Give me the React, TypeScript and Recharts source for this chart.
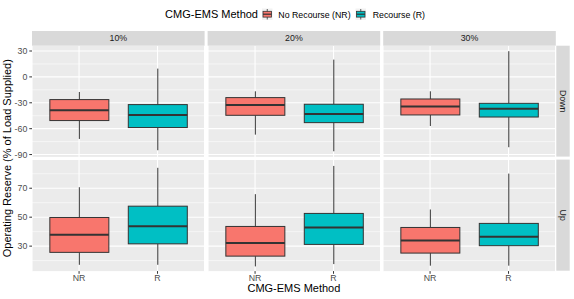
import React from 'react';
import { ComposedChart, Bar, XAxis, YAxis, CartesianGrid } from 'recharts';

const facets = ['10%', '20%', '30%'];
const directions = ['Down', 'Up'];
const methods = ['NR', 'R'];
const legendLabels = ['No Recourse (NR)', 'Recourse (R)'];
const colors = ['#F8766D', '#00BFC4'];

// box statistics per facet (10%, 20%, 30%): [min, q1, median, q3, max]
const downNR = [
  [-71.9, -50.6, -38.7, -26.3, -17.5],
  [-66.9, -44.5, -32.5, -24.0, -16.7],
  [-56.9, -44.1, -34.4, -25.6, -16.7],
];
const downR = [
  [-85.0, -58.7, -44.1, -32.1, 9.6],
  [-86.2, -53.0, -43.0, -31.7, 20.0],
  [-81.5, -46.5, -36.8, -30.6, 29.8],
];
const upNR = [
  [17.1, 25.7, 37.8, 49.8, 70.7],
  [16.0, 23.1, 32.1, 43.6, 65.9],
  [16.5, 25.2, 33.9, 42.9, 55.3],
];
const upR = [
  [17.1, 31.6, 43.8, 57.6, 84.1],
  [17.6, 31.2, 42.9, 52.6, 85.4],
  [16.5, 30.3, 36.5, 45.7, 80.1],
];

const downTicks = [-90, -60, -30, 0, 30];
const downMinor = [-75, -45, -15, 15];
const downDomain = [-92.7, 35.8];
const upTicks = [30, 50, 70];
const upMinor = [20, 40, 60, 80];
const upDomain = [12.76, 89.5];

const FONT = '"Liberation Sans", Arial, Helvetica, sans-serif';

const colX = [32, 207.6, 383.2];
const panelW = 172.6;
const rowY = [45.7, 159.6];
const rowH = [110.9, 111.1];
const yAxisW = 32;
const xAxisH = 28;
const extraBottom = 8;

const BoxShape = (props: any) => {
  const { x, y, width, height, payload } = props;
  const [mn, q1, md, q3, mx] = payload.stats;
  const top = Math.min(y, y + height);
  const h = Math.abs(height);
  const py = (v: number) => top + ((mx - v) / (mx - mn)) * h;
  const cx = x + width / 2;
  return (
    <g>
      <line x1={cx} x2={cx} y1={py(mx)} y2={py(q3)} stroke="#333333" strokeWidth={1} />
      <line x1={cx} x2={cx} y1={py(q1)} y2={py(mn)} stroke="#333333" strokeWidth={1} />
      <rect x={x} y={py(q3)} width={width} height={py(q1) - py(q3)} fill={payload.color} stroke="#333333" strokeWidth={1} />
      <line x1={x} x2={x + width} y1={py(md)} y2={py(md)} stroke="#333333" strokeWidth={2} />
    </g>
  );
};

const tables = [
  [downNR, downR],
  [upNR, upR],
];

function Panel({ row, col }: { row: number; col: number }) {
  const data = methods.map((m, i) => {
    const s = tables[row][i][col];
    return { method: m, range: [s[0], s[4]], stats: s, color: colors[i] };
  });
  const isDown = row === 0;
  const showY = col === 0;
  const showX = row === 1;
  const w = panelW + (showY ? yAxisW : 0);
  const h = rowH[row] + (showX ? xAxisH : extraBottom);
  const left = colX[col] - (showY ? yAxisW : 0);
  const pad = panelW * (0.6 / 2.2 - 0.25) * 2;
  return (
    <div style={{ position: 'absolute', left, top: rowY[row] }}>
      <ComposedChart
        width={w}
        height={h}
        data={data}
        margin={{ top: 0, right: 0, bottom: showX ? 0 : extraBottom, left: 0 }}
      >
        <CartesianGrid
          horizontalValues={isDown ? downMinor : upMinor}
          vertical={false}
          stroke="#FFFFFF"
          strokeWidth={0.55}
          fill="#EBEBEB"
        />
        <CartesianGrid
          horizontalValues={isDown ? downTicks : upTicks}
          stroke="#FFFFFF"
          strokeWidth={1.1}
        />
        <XAxis
          dataKey="method"
          type="category"
          hide={!showX}
          height={xAxisH}
          padding={{ left: pad, right: pad }}
          axisLine={false}
          stroke="#4D4D4D"
          tickSize={2.7}
          tickMargin={1}
          tickLine={{ stroke: '#333333', strokeWidth: 1 }}
          tick={{ fontSize: 8.8, fill: '#4D4D4D', fontFamily: FONT }}
        />
        <YAxis
          type="number"
          hide={!showY}
          width={yAxisW}
          domain={isDown ? downDomain : upDomain}
          ticks={isDown ? downTicks : upTicks}
          interval={0}
          allowDataOverflow
          axisLine={false}
          stroke="#4D4D4D"
          tickSize={2.7}
          tickMargin={2}
          tickLine={{ stroke: '#333333', strokeWidth: 1 }}
          tick={{ fontSize: 8.8, fill: '#4D4D4D', fontFamily: FONT }}
        />
        <Bar
          dataKey="range"
          barSize={59}
          isAnimationActive={false}
          shape={(p: any) => <BoxShape {...p} />}
        />
      </ComposedChart>
    </div>
  );
}

function LegendKey({ x, color }: { x: number; color: string }) {
  return (
    <g>
      <rect x={x} y={8.5} width={10.5} height={11.5} fill="#F2F2F2" />
      <line x1={x + 5.25} x2={x + 5.25} y1={9} y2={19.5} stroke="#333333" strokeWidth={0.8} />
      <rect x={x + 1} y={11.3} width={8.5} height={5.8} fill={color} stroke="#333333" strokeWidth={0.8} />
      <line x1={x + 1} x2={x + 9.5} y1={14.2} y2={14.2} stroke="#333333" strokeWidth={1.2} />
    </g>
  );
}

export default function App() {
  const stripTop = 31;
  const stripH = rowY[0] - stripTop;
  const rightStripX = 556.3;
  const rightStripW = 13.4;
  return (
    <div style={{ position: 'fixed', left: 0, top: 0, width: 574, height: 299, background: '#FFFFFF', overflow: 'hidden' }}>
      <svg width={574} height={299} style={{ position: 'absolute', left: 0, top: 0 }} fontFamily={FONT}>
        {/* legend */}
        <text x={258} y={18} fontSize={11} textAnchor="end" fill="#000000">CMG-EMS Method</text>
        <LegendKey x={262} color={colors[0]} />
        <text x={278.3} y={17.5} fontSize={8.8} fill="#000000">{legendLabels[0]}</text>
        <LegendKey x={355.5} color={colors[1]} />
        <text x={372.7} y={17.5} fontSize={8.8} fill="#000000">{legendLabels[1]}</text>
        {/* top strips */}
        {facets.map((f, i) => (
          <g key={f}>
            <rect x={colX[i]} y={stripTop} width={panelW} height={stripH} fill="#D9D9D9" />
            <text x={colX[i] + panelW / 2} y={stripTop + stripH / 2} dy="0.35em" fontSize={8.8} textAnchor="middle" fill="#1A1A1A">{f}</text>
          </g>
        ))}
        {/* right strips */}
        {directions.map((d, i) => (
          <g key={d}>
            <rect x={rightStripX} y={rowY[i]} width={rightStripW} height={rowH[i]} fill="#D9D9D9" />
            <text
              transform={`translate(${rightStripX + rightStripW / 2},${rowY[i] + rowH[i] / 2}) rotate(90)`}
              dy="0.35em"
              fontSize={8.8}
              textAnchor="middle"
              fill="#1A1A1A"
            >{d}</text>
          </g>
        ))}
        {/* axis titles */}
        <text x={(colX[0] + colX[2] + panelW) / 2} y={291.5} fontSize={11} textAnchor="middle" fill="#000000">CMG-EMS Method</text>
        <text transform={`translate(11.2,${(rowY[0] + rowY[1] + rowH[1]) / 2}) rotate(-90)`} fontSize={11} textAnchor="middle" fill="#000000">Operating Reserve (% of Load Supplied)</text>
      </svg>
      {directions.map((_, r) => facets.map((_, c) => <Panel key={`${r}-${c}`} row={r} col={c} />))}
    </div>
  );
}
